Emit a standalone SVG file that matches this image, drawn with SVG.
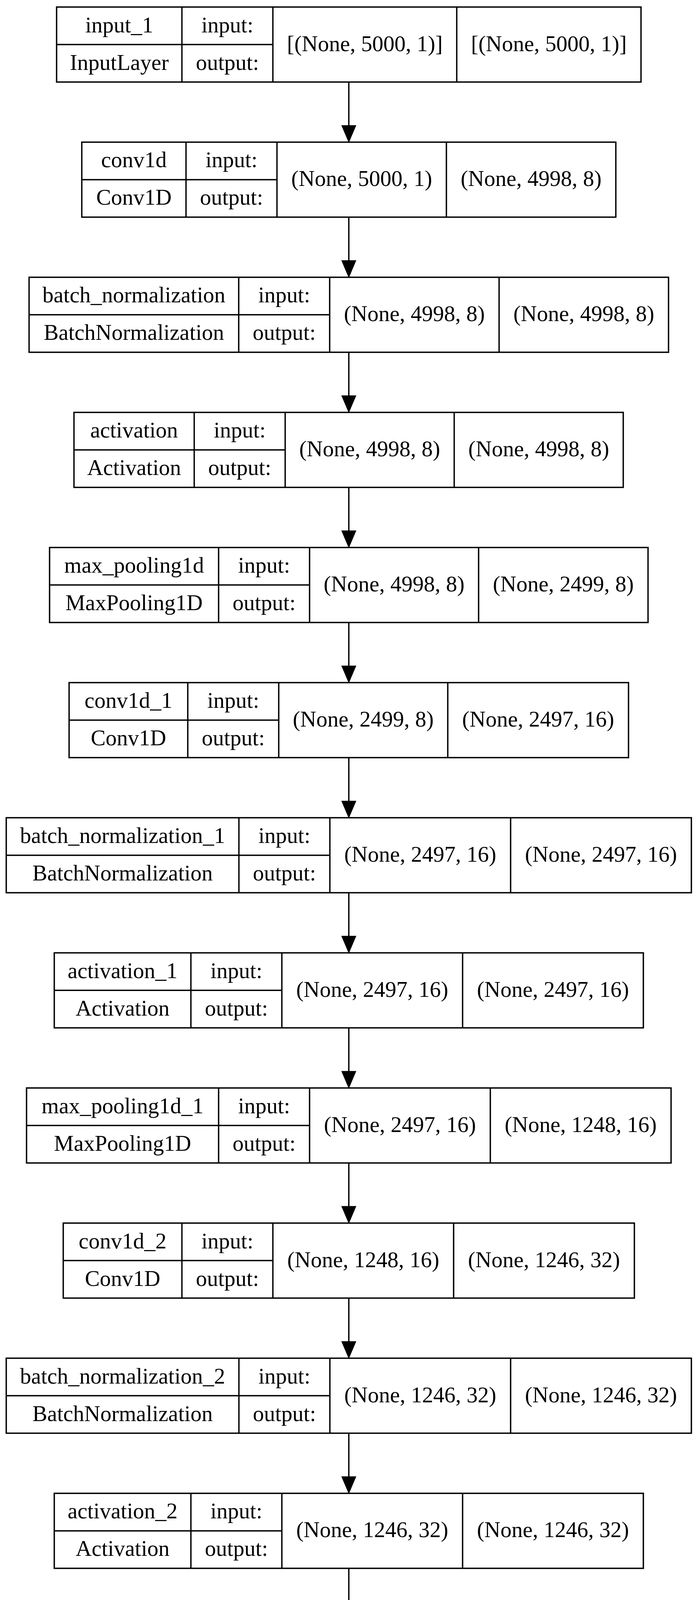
<svg xmlns="http://www.w3.org/2000/svg" xmlns:xlink="http://www.w3.org/1999/xlink" width="1788" height="6454" viewBox="0 0 1788 6454">
<style>
.b{fill:none;stroke:#000;stroke-width:3.5}
.e{stroke:#000;stroke-width:3.5;fill:none}
.ah{fill:#000;stroke:#000;stroke-width:3}
text{font-family:"Liberation Serif","Times New Roman",serif;font-size:57px;text-anchor:middle;fill:#000}
</style>
<defs>
<path id="ah" class="ah" d="M-17,-40L17,-40L0,0Z"/>
</defs>
<rect width="1788" height="6454" fill="#fff"/>
<g id="edges">
<path class="e" d="M893.5 210V321.9M893.5 555.9V667.8M893.5 901.8V1013.7M893.5 1247.7V1359.6M893.5 1593.6V1705.5M893.5 1939.5V2051.4M893.5 2285.4V2397.3M893.5 2631.3V2743.2M893.5 2977.2V3089.1M893.5 3323.1V3435M893.5 3669V3780.9M893.5 4014.9V4126.8M893.5 4360.8V4472.7M893.5 4706.7V4818.6M893.5 5052.6V5164.5M893.5 5398.5V5510.4M893.5 5744.4V5856.3M893.5 6090.3V6202.2"/>
<use xlink:href="#ah" x="893.5" y="361.9"/>
<use xlink:href="#ah" x="893.5" y="707.8"/>
<use xlink:href="#ah" x="893.5" y="1053.7"/>
<use xlink:href="#ah" x="893.5" y="1399.6"/>
<use xlink:href="#ah" x="893.5" y="1745.5"/>
<use xlink:href="#ah" x="893.5" y="2091.4"/>
<use xlink:href="#ah" x="893.5" y="2437.3"/>
<use xlink:href="#ah" x="893.5" y="2783.2"/>
<use xlink:href="#ah" x="893.5" y="3129.1"/>
<use xlink:href="#ah" x="893.5" y="3475"/>
<use xlink:href="#ah" x="893.5" y="3820.9"/>
<use xlink:href="#ah" x="893.5" y="4166.8"/>
<use xlink:href="#ah" x="893.5" y="4512.7"/>
<use xlink:href="#ah" x="893.5" y="4858.6"/>
<use xlink:href="#ah" x="893.5" y="5204.5"/>
<use xlink:href="#ah" x="893.5" y="5550.4"/>
<use xlink:href="#ah" x="893.5" y="5896.3"/>
<use xlink:href="#ah" x="893.5" y="6242.2"/>
</g>
<g id="n0" transform="translate(0,18)">
<rect class="b" x="145" y="0" width="1497" height="192"/>
<path class="b" d="M466 0V192M699 0V192M1170 0V192M145 96H699"/>
<text x="305.5" y="64.5">input_1</text><text x="305.5" y="160.5">InputLayer</text>
<text x="582.5" y="64.5">input:</text><text x="582.5" y="160.5">output:</text>
<text x="934.5" y="112.5">[(None, 5000, 1)]</text><text x="1406" y="112.5">[(None, 5000, 1)]</text>
</g>
<g id="n1" transform="translate(0,363.9)">
<rect class="b" x="209.5" y="0" width="1368" height="192"/>
<path class="b" d="M476.5 0V192M709.5 0V192M1143.5 0V192M209.5 96H709.5"/>
<text x="343" y="64.5">conv1d</text><text x="343" y="160.5">Conv1D</text>
<text x="593" y="64.5">input:</text><text x="593" y="160.5">output:</text>
<text x="926.5" y="112.5">(None, 5000, 1)</text><text x="1360.5" y="112.5">(None, 4998, 8)</text>
</g>
<g id="n2" transform="translate(0,709.8)">
<rect class="b" x="74.5" y="0" width="1638" height="192"/>
<path class="b" d="M611.5 0V192M844.5 0V192M1278.5 0V192M74.5 96H844.5"/>
<text x="343" y="64.5">batch_normalization</text><text x="343" y="160.5">BatchNormalization</text>
<text x="728" y="64.5">input:</text><text x="728" y="160.5">output:</text>
<text x="1061.5" y="112.5">(None, 4998, 8)</text><text x="1495.5" y="112.5">(None, 4998, 8)</text>
</g>
<g id="n3" transform="translate(0,1055.7)">
<rect class="b" x="189.5" y="0" width="1407" height="192"/>
<path class="b" d="M497.5 0V192M730.5 0V192M1163.5 0V192M189.5 96H730.5"/>
<text x="343.5" y="64.5">activation</text><text x="343.5" y="160.5">Activation</text>
<text x="614" y="64.5">input:</text><text x="614" y="160.5">output:</text>
<text x="947" y="112.5">(None, 4998, 8)</text><text x="1380" y="112.5">(None, 4998, 8)</text>
</g>
<g id="n4" transform="translate(0,1401.6)">
<rect class="b" x="127" y="0" width="1533" height="192"/>
<path class="b" d="M560 0V192M793 0V192M1226 0V192M127 96H793"/>
<text x="343.5" y="64.5">max_pooling1d</text><text x="343.5" y="160.5">MaxPooling1D</text>
<text x="676.5" y="64.5">input:</text><text x="676.5" y="160.5">output:</text>
<text x="1009.5" y="112.5">(None, 4998, 8)</text><text x="1443" y="112.5">(None, 2499, 8)</text>
</g>
<g id="n5" transform="translate(0,1747.5)">
<rect class="b" x="177" y="0" width="1433" height="192"/>
<path class="b" d="M481 0V192M714 0V192M1147 0V192M177 96H714"/>
<text x="329" y="64.5">conv1d_1</text><text x="329" y="160.5">Conv1D</text>
<text x="597.5" y="64.5">input:</text><text x="597.5" y="160.5">output:</text>
<text x="930.5" y="112.5">(None, 2499, 8)</text><text x="1378.5" y="112.5">(None, 2497, 16)</text>
</g>
<g id="n6" transform="translate(0,2093.4)">
<rect class="b" x="16" y="0" width="1755" height="192"/>
<path class="b" d="M612 0V192M845 0V192M1308 0V192M16 96H845"/>
<text x="314" y="64.5">batch_normalization_1</text><text x="314" y="160.5">BatchNormalization</text>
<text x="728.5" y="64.5">input:</text><text x="728.5" y="160.5">output:</text>
<text x="1076.5" y="112.5">(None, 2497, 16)</text><text x="1539.5" y="112.5">(None, 2497, 16)</text>
</g>
<g id="n7" transform="translate(0,2439.3)">
<rect class="b" x="139" y="0" width="1509" height="192"/>
<path class="b" d="M489 0V192M722 0V192M1185 0V192M139 96H722"/>
<text x="314" y="64.5">activation_1</text><text x="314" y="160.5">Activation</text>
<text x="605.5" y="64.5">input:</text><text x="605.5" y="160.5">output:</text>
<text x="953.5" y="112.5">(None, 2497, 16)</text><text x="1416.5" y="112.5">(None, 2497, 16)</text>
</g>
<g id="n8" transform="translate(0,2785.2)">
<rect class="b" x="68" y="0" width="1651" height="192"/>
<path class="b" d="M560 0V192M793 0V192M1256 0V192M68 96H793"/>
<text x="314" y="64.5">max_pooling1d_1</text><text x="314" y="160.5">MaxPooling1D</text>
<text x="676.5" y="64.5">input:</text><text x="676.5" y="160.5">output:</text>
<text x="1024.5" y="112.5">(None, 2497, 16)</text><text x="1487.5" y="112.5">(None, 1248, 16)</text>
</g>
<g id="n9" transform="translate(0,3131.1)">
<rect class="b" x="162" y="0" width="1463" height="192"/>
<path class="b" d="M466 0V192M699 0V192M1162 0V192M162 96H699"/>
<text x="314" y="64.5">conv1d_2</text><text x="314" y="160.5">Conv1D</text>
<text x="582.5" y="64.5">input:</text><text x="582.5" y="160.5">output:</text>
<text x="930.5" y="112.5">(None, 1248, 16)</text><text x="1393.5" y="112.5">(None, 1246, 32)</text>
</g>
<g id="n10" transform="translate(0,3477)">
<rect class="b" x="16" y="0" width="1755" height="192"/>
<path class="b" d="M612 0V192M845 0V192M1308 0V192M16 96H845"/>
<text x="314" y="64.5">batch_normalization_2</text><text x="314" y="160.5">BatchNormalization</text>
<text x="728.5" y="64.5">input:</text><text x="728.5" y="160.5">output:</text>
<text x="1076.5" y="112.5">(None, 1246, 32)</text><text x="1539.5" y="112.5">(None, 1246, 32)</text>
</g>
<g id="n11" transform="translate(0,3822.9)">
<rect class="b" x="139" y="0" width="1509" height="192"/>
<path class="b" d="M489 0V192M722 0V192M1185 0V192M139 96H722"/>
<text x="314" y="64.5">activation_2</text><text x="314" y="160.5">Activation</text>
<text x="605.5" y="64.5">input:</text><text x="605.5" y="160.5">output:</text>
<text x="953.5" y="112.5">(None, 1246, 32)</text><text x="1416.5" y="112.5">(None, 1246, 32)</text>
</g>
<g id="n12" transform="translate(0,4168.8)">
<rect class="b" x="82.5" y="0" width="1622" height="192"/>
<path class="b" d="M574.5 0V192M807.5 0V192M1270.5 0V192M82.5 96H807.5"/>
<text x="328.5" y="64.5">max_pooling1d_2</text><text x="328.5" y="160.5">MaxPooling1D</text>
<text x="691" y="64.5">input:</text><text x="691" y="160.5">output:</text>
<text x="1039" y="112.5">(None, 1246, 32)</text><text x="1487.5" y="112.5">(None, 623, 32)</text>
</g>
<g id="n13" transform="translate(0,4514.7)">
<rect class="b" x="192" y="0" width="1403" height="192"/>
<path class="b" d="M496 0V192M729 0V192M1162 0V192M192 96H729"/>
<text x="344" y="64.5">conv1d_3</text><text x="344" y="160.5">Conv1D</text>
<text x="612.5" y="64.5">input:</text><text x="612.5" y="160.5">output:</text>
<text x="945.5" y="112.5">(None, 623, 32)</text><text x="1378.5" y="112.5">(None, 621, 64)</text>
</g>
<g id="n14" transform="translate(0,4860.6)">
<rect class="b" x="46" y="0" width="1695" height="192"/>
<path class="b" d="M642 0V192M875 0V192M1308 0V192M46 96H875"/>
<text x="344" y="64.5">batch_normalization_3</text><text x="344" y="160.5">BatchNormalization</text>
<text x="758.5" y="64.5">input:</text><text x="758.5" y="160.5">output:</text>
<text x="1091.5" y="112.5">(None, 621, 64)</text><text x="1524.5" y="112.5">(None, 621, 64)</text>
</g>
<g id="n15" transform="translate(0,5206.5)">
<rect class="b" x="169" y="0" width="1449" height="192"/>
<path class="b" d="M519 0V192M752 0V192M1185 0V192M169 96H752"/>
<text x="344" y="64.5">activation_3</text><text x="344" y="160.5">Activation</text>
<text x="635.5" y="64.5">input:</text><text x="635.5" y="160.5">output:</text>
<text x="968.5" y="112.5">(None, 621, 64)</text><text x="1401.5" y="112.5">(None, 621, 64)</text>
</g>
<g id="n16" transform="translate(0,5552.4)">
<rect class="b" x="97.5" y="0" width="1592" height="192"/>
<path class="b" d="M589.5 0V192M822.5 0V192M1255.5 0V192M97.5 96H822.5"/>
<text x="343.5" y="64.5">max_pooling1d_3</text><text x="343.5" y="160.5">MaxPooling1D</text>
<text x="706" y="64.5">input:</text><text x="706" y="160.5">output:</text>
<text x="1039" y="112.5">(None, 621, 64)</text><text x="1472.5" y="112.5">(None, 310, 64)</text>
</g>
<g id="n17" transform="translate(0,5898.3)">
<rect class="b" x="246" y="0" width="1295" height="192"/>
<path class="b" d="M471 0V192M704 0V192M1137 0V192M246 96H704"/>
<text x="358.5" y="64.5">flatten</text><text x="358.5" y="160.5">Flatten</text>
<text x="587.5" y="64.5">input:</text><text x="587.5" y="160.5">output:</text>
<text x="920.5" y="112.5">(None, 310, 64)</text><text x="1339" y="112.5">(None, 19840)</text>
</g>
<g id="n18" transform="translate(0,6244.2)">
<rect class="b" x="308" y="0" width="1171" height="192"/>
<path class="b" d="M520 0V192M753 0V192M1157 0V192M308 96H753"/>
<text x="414" y="64.5">dense</text><text x="414" y="160.5">Dense</text>
<text x="636.5" y="64.5">input:</text><text x="636.5" y="160.5">output:</text>
<text x="955" y="112.5">(None, 19840)</text><text x="1318" y="112.5">(None, 12)</text>
</g>
</svg>
